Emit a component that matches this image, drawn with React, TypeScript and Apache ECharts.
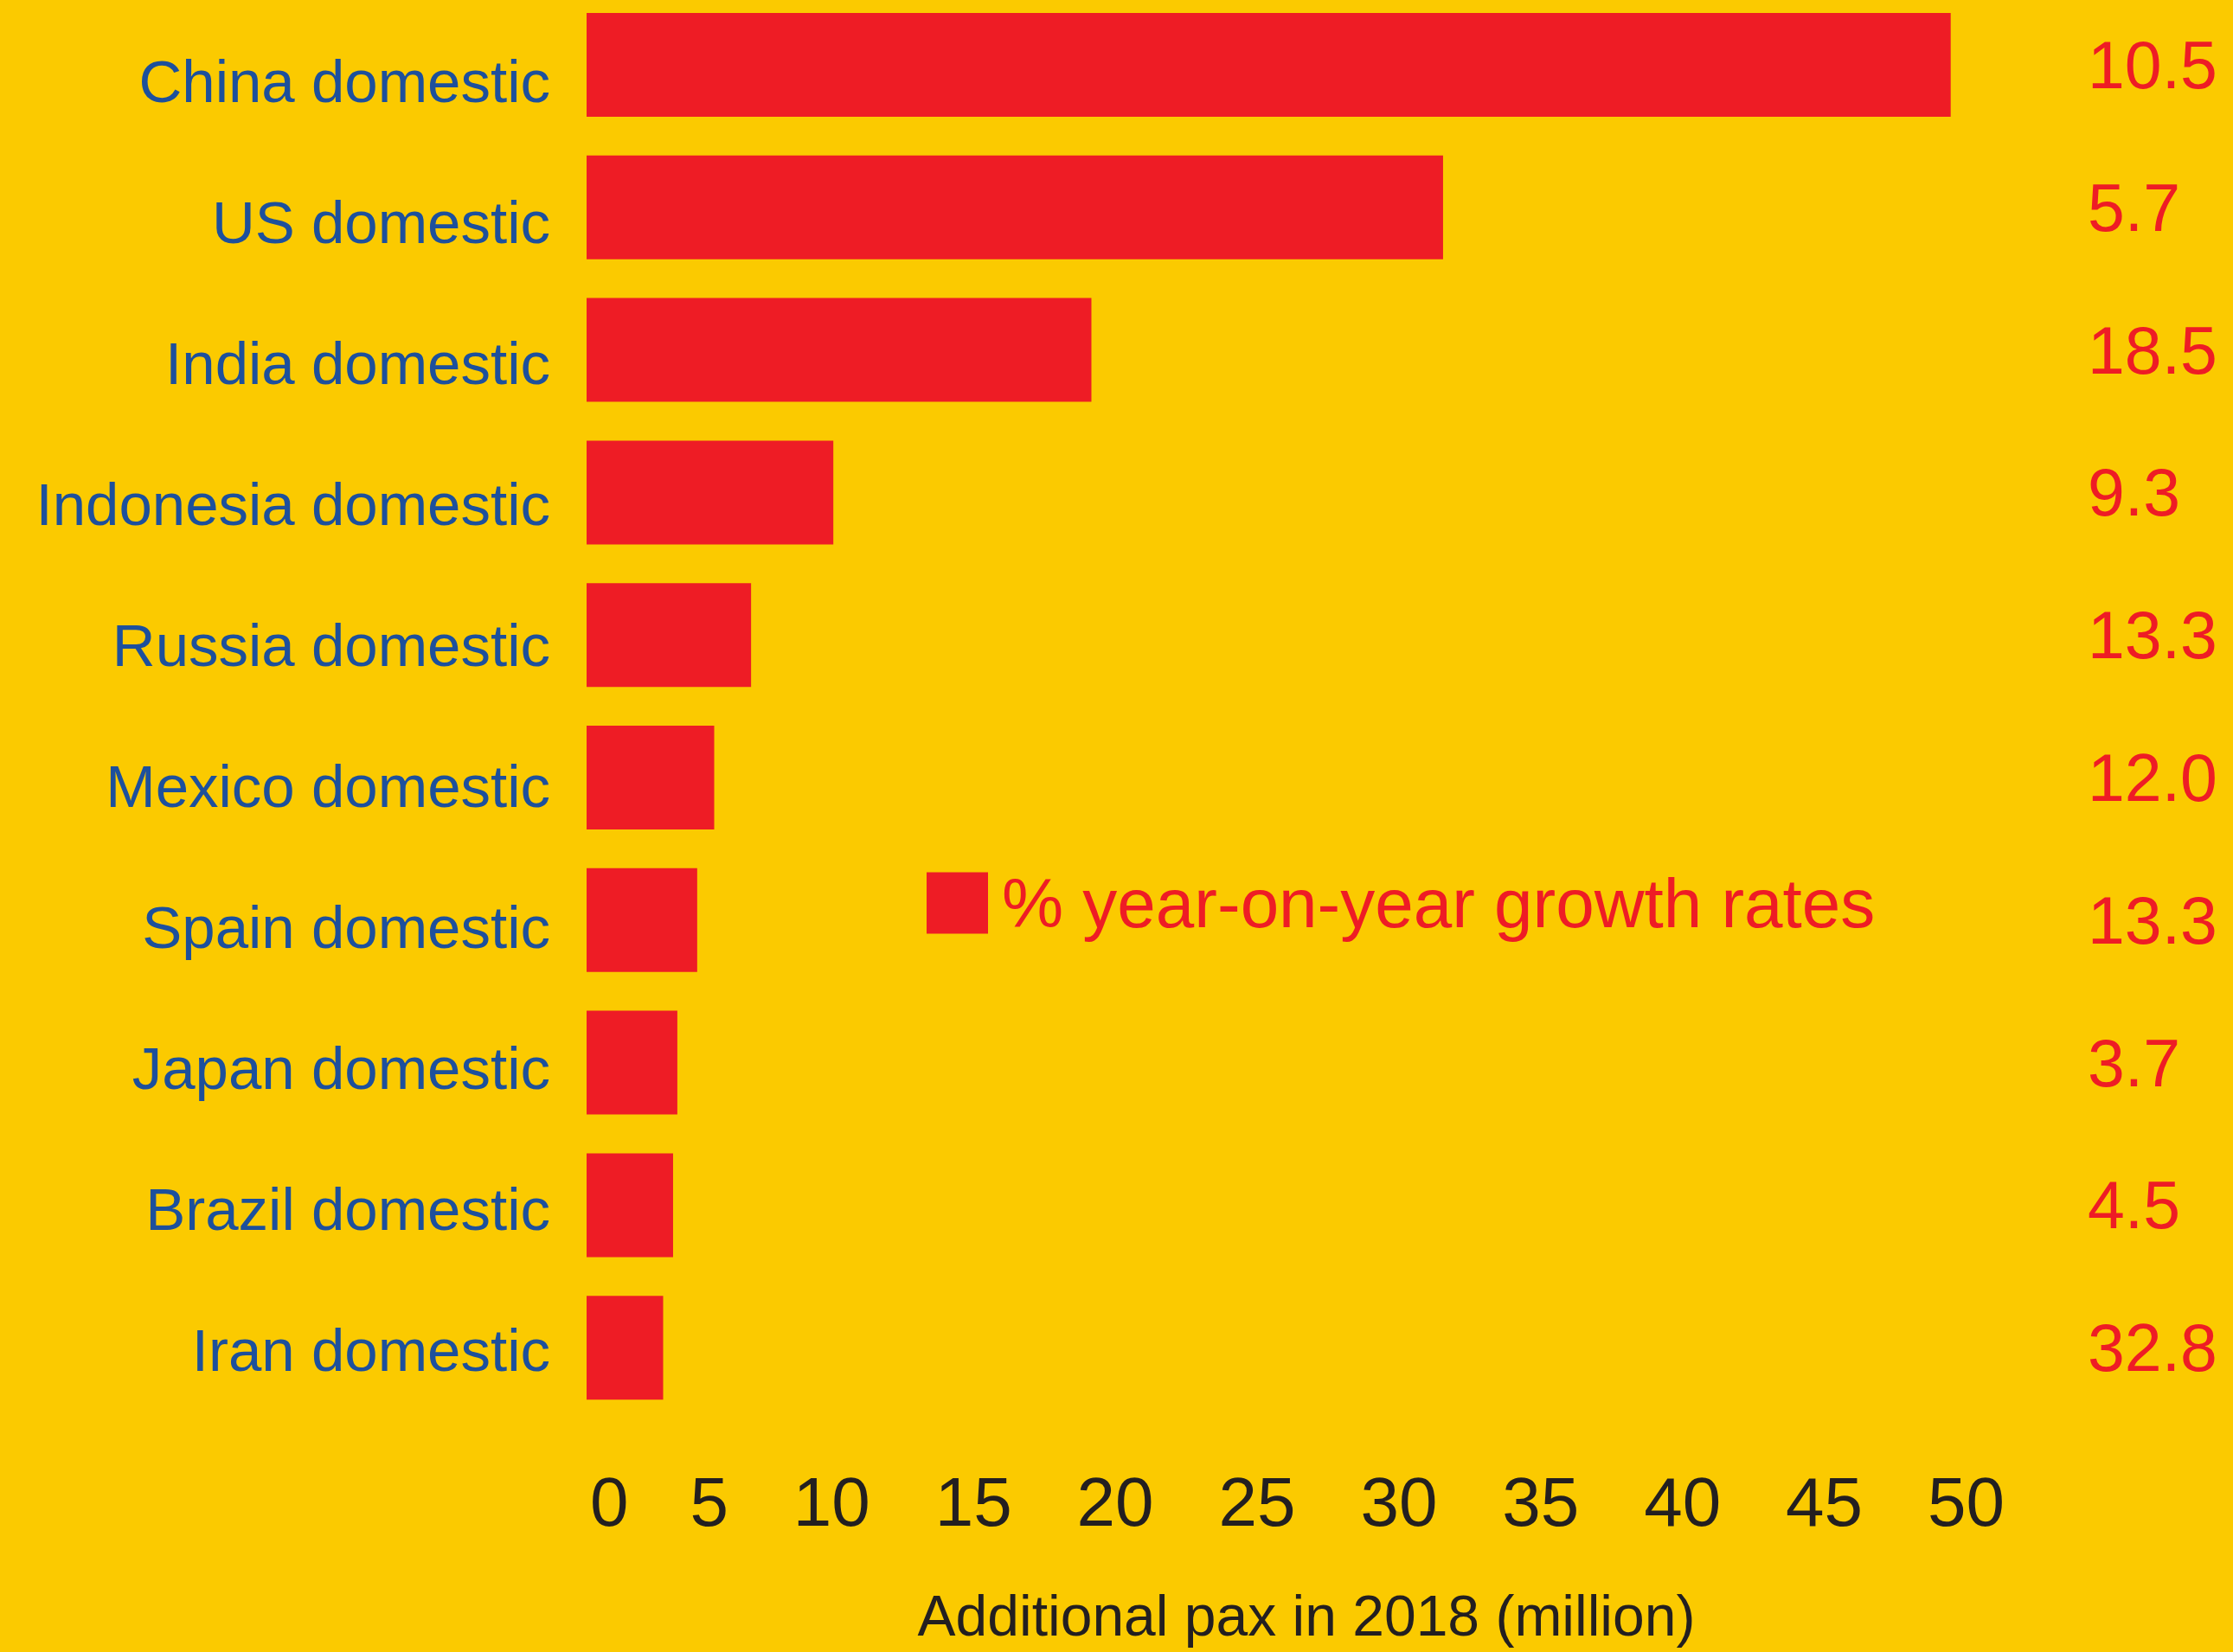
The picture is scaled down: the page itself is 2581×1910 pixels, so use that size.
import React, { useEffect, useRef } from "react";
import * as echarts from "echarts";

const categories = [
  "China domestic",
  "US domestic",
  "India domestic",
  "Indonesia domestic",
  "Russia domestic",
  "Mexico domestic",
  "Spain domestic",
  "Japan domestic",
  "Brazil domestic",
  "Iran domestic",
];
const additionalPax = [48.1, 30.2, 17.8, 8.7, 5.8, 4.5, 3.9, 3.2, 3.05, 2.7];
const growthRates = ["10.5", "5.7", "18.5", "9.3", "13.3", "12.0", "13.3", "3.7", "4.5", "32.8"];
const xMin = 0;
const xMax = 50;
const xInterval = 5;
const axisTitle = "Additional pax in 2018 (million)";
const legendLabel = "% year-on-year growth rates";

const BG = "#FBCA00";
const RED = "#EE1C25";
const BLUE = "#1D509C";
const DARK = "#231F20";
const FONT = "'Liberation Sans', Arial, sans-serif";

export default function App() {
  const ref = useRef<HTMLDivElement>(null);
  useEffect(() => {
    document.body.style.margin = "0";
    document.body.style.background = BG;
    const chart = echarts.init(ref.current!, null, { renderer: "svg" });
    const gridW = 1639;
    chart.setOption({
      animation: false,
      backgroundColor: BG,
      textStyle: { fontFamily: FONT },
      grid: [
        { left: 678, top: -7.4, width: gridW, height: 1648, outerBoundsMode: "none", containLabel: false },
        { left: 678, top: 13, width: gridW, height: 1630, outerBoundsMode: "none", containLabel: false },
      ],
      legend: {
        show: true,
        left: 1071,
        top: 1004,
        padding: 0,
        icon: "rect",
        itemWidth: 71,
        itemHeight: 71,
        selectedMode: false,
        data: [legendLabel],
        textStyle: { fontSize: 80, color: RED, fontFamily: FONT, padding: [12, 0, 0, 11] },
      },
      xAxis: [
        {
          type: "value",
          gridIndex: 0,
          min: xMin,
          max: xMax,
          interval: xInterval,
          axisLine: { show: false },
          axisTick: { show: false },
          splitLine: { show: false },
          axisLabel: {
            show: true,
            align: "right",
            alignMinLabel: "left",
            fontSize: 80,
            color: DARK,
            fontFamily: FONT,
            margin: 56,
            padding: [0, 0, 0, 4],
          },
          name: axisTitle,
          nameLocation: "middle",
          nameGap: 197,
          nameTextStyle: { fontSize: 66, lineHeight: 60, color: DARK, fontFamily: FONT, padding: [0, 0, 0, 25] },
        },
        {
          type: "value",
          gridIndex: 1,
          min: 0,
          max: 1,
          show: false,
        },
      ],
      yAxis: [
        {
          type: "category",
          gridIndex: 0,
          data: categories,
          inverse: true,
          axisLine: { show: false },
          axisTick: { show: false },
          axisLabel: { show: false },
          splitLine: { show: false },
        },
        {
          type: "category",
          gridIndex: 0,
          position: "right",
          data: growthRates,
          inverse: true,
          axisLine: { show: false },
          axisTick: { show: false },
          splitLine: { show: false },
          axisLabel: {
            show: true,
            align: "left",
            margin: 96,
            fontSize: 77,
            color: RED,
            fontFamily: FONT,
          },
        },
        {
          type: "category",
          gridIndex: 1,
          data: categories,
          inverse: true,
          axisLine: { show: false },
          axisTick: { show: false },
          splitLine: { show: false },
          axisLabel: {
            show: true,
            margin: 42,
            fontSize: 69,
            color: BLUE,
            fontFamily: FONT,
          },
        },
      ],
      series: [
        {
          type: "bar",
          name: legendLabel,
          xAxisIndex: 0,
          yAxisIndex: 0,
          data: additionalPax,
          barWidth: 120,
          itemStyle: { color: RED },
          label: { show: false },
        },
      ],
    });
    return () => chart.dispose();
  }, []);
  return (
    <div
      ref={ref}
      style={{ position: "fixed", left: 0, top: 0, width: 2581, height: 1910, background: BG }}
    />
  );
}
